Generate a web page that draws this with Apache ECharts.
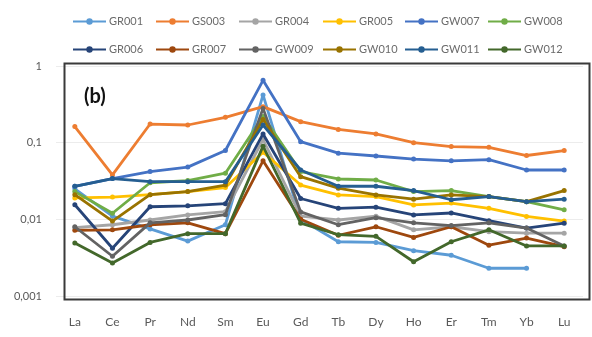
<!DOCTYPE html>
<html>
<head>
<meta charset="utf-8">
<script src="https://cdn.jsdelivr.net/npm/echarts@6/dist/echarts.min.js"></script>
<style>
  html, body { margin: 0; padding: 0; background: #fff; }
  #chart { width: 592px; height: 337px; }
</style>
</head>
<body>
<div id="chart"></div>
<script>
// REE elements along the x axis
const elements = ['La', 'Ce', 'Pr', 'Nd', 'Sm', 'Eu', 'Gd', 'Tb', 'Dy', 'Ho', 'Er', 'Tm', 'Yb', 'Lu'];

// Log-axis tick labels (decimal comma), from 0.001 up to 1
const yTickLabels = ['0,001', '0,01', '0,1', '1'];

// Normalised concentrations per sample
const GR001 = [0.025, 0.011, 0.0075, 0.0052, 0.0085, 0.42, 0.010, 0.0051, 0.005, 0.0039, 0.0034, 0.0023, 0.0023, null];
const GS003 = [0.162, 0.038, 0.175, 0.17, 0.214, 0.295, 0.188, 0.149, 0.13, 0.1, 0.089, 0.087, 0.068, 0.079];
const GR004 = [0.0078, 0.0085, 0.0098, 0.0114, 0.0126, 0.11, 0.011, 0.0098, 0.011, 0.0073, 0.008, 0.0069, 0.0066, 0.0066];
const GR005 = [0.019, 0.0195, 0.021, 0.023, 0.026, 0.075, 0.028, 0.0208, 0.0198, 0.0154, 0.0163, 0.0139, 0.0109, 0.0095];
const GW007 = [0.027, 0.034, 0.042, 0.048, 0.079, 0.65, 0.103, 0.073, 0.067, 0.061, 0.058, 0.06, 0.044, 0.044];
const GW008 = [0.023, 0.012, 0.030, 0.032, 0.040, 0.22, 0.042, 0.0336, 0.0326, 0.023, 0.0237, 0.0198, 0.017, 0.0133];
const GR006 = [0.0155, 0.0042, 0.0146, 0.015, 0.016, 0.13, 0.0187, 0.0139, 0.0144, 0.0114, 0.0121, 0.0096, 0.0077, 0.0089];
const GR007 = [0.0072, 0.0073, 0.0085, 0.009, 0.0065, 0.058, 0.010, 0.0062, 0.008, 0.0058, 0.008, 0.0046, 0.0057, 0.0044];
const GW009 = [0.008, 0.0033, 0.009, 0.0098, 0.0115, 0.28, 0.0125, 0.0085, 0.0105, 0.009, 0.0083, 0.009, 0.0077, 0.0045];
const GW010 = [0.021, 0.0095, 0.021, 0.023, 0.028, 0.2, 0.036, 0.0255, 0.0208, 0.0183, 0.0208, 0.0198, 0.017, 0.0237];
const GW011 = [0.027, 0.034, 0.031, 0.031, 0.031, 0.17, 0.044, 0.027, 0.027, 0.0237, 0.018, 0.0198, 0.017, 0.0183];
const GW012 = [0.0049, 0.0027, 0.005, 0.0065, 0.0065, 0.09, 0.0089, 0.0063, 0.006, 0.0028, 0.0051, 0.0073, 0.0045, 0.0045];

const sampleNames = ['GR001', 'GS003', 'GR004', 'GR005', 'GW007', 'GW008',
                     'GR006', 'GR007', 'GW009', 'GW010', 'GW011', 'GW012'];
const sampleValues = [GR001, GS003, GR004, GR005, GW007, GW008,
                      GR006, GR007, GW009, GW010, GW011, GW012];
const palette = ['#5B9BD5', '#ED7D31', '#A5A5A5', '#FFC000', '#4472C4', '#70AD47',
                 '#264478', '#9E480E', '#636363', '#997300', '#255E91', '#43682B'];

const FONT = 'Lato, "Liberation Sans", sans-serif';

const series = sampleNames.map((name, i) => ({
  name: name,
  type: 'line',
  data: sampleValues[i],
  symbol: 'circle',
  symbolSize: 5,
  lineStyle: { width: 2.8, color: palette[i] },
  itemStyle: { color: palette[i] },
  connectNulls: false,
  z: 2 + i
}));

// one legend block per sample, laid out in two rows of six
const colLefts = [72, 155, 238, 322, 404, 487];
const legends = sampleNames.map((name, i) => ({
  data: [name],
  left: colLefts[i % 6],
  top: i < 6 ? 16 : 44,
  padding: 0,
  itemWidth: 33,
  itemHeight: 8,
  itemGap: 0,
  textStyle: { color: '#6b6b6b', fontSize: 11, fontFamily: FONT, padding: [0, 0, 0, -2] },
  selectedMode: false
}));

const chart = echarts.init(document.getElementById('chart'), null, { renderer: 'canvas' });
chart.setOption({
  animation: false,
  color: palette,
  textStyle: { fontFamily: FONT },
  title: {
    text: '(b)',
    left: 79,
    top: 82,
    textStyle: { fontSize: 20, fontWeight: 'bold', color: '#111', fontFamily: FONT }
  },
  legend: legends,
  grid: { left: 56, right: 9, top: 66, bottom: 41 },
  xAxis: {
    type: 'category',
    data: elements,
    boundaryGap: true,
    axisLine: { show: false },
    axisTick: { show: false },
    axisLabel: { color: '#595959', fontSize: 12, margin: 20, fontFamily: FONT }
  },
  yAxis: {
    type: 'log',
    logBase: 10,
    min: 0.001,
    max: 1,
    axisLine: { show: false },
    axisTick: { show: false },
    splitLine: { show: true, lineStyle: { color: '#ececec', width: 1 } },
    axisLabel: {
      color: '#595959',
      fontSize: 11,
      margin: 14,
      fontFamily: FONT,
      formatter: v => yTickLabels[Math.round(Math.log10(v)) + 3]
    }
  },
  graphic: [{
    type: 'rect',
    left: 62,
    top: 61,
    shape: { width: 525, height: 236 },
    style: { fill: null, stroke: '#3a3a3a', lineWidth: 2 },
    z: 100,
    silent: true
  }],
  series: series
});
</script>
</body>
</html>
